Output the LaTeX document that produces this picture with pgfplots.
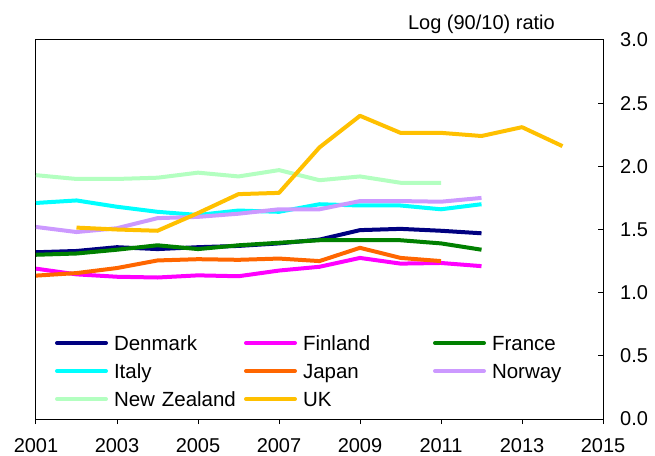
\documentclass[border=0pt]{standalone}
\usepackage{fontspec}
\setmainfont{Liberation Sans}
\usepackage{pgfplots}
\pgfplotsset{compat=1.18}
\definecolor{cDen}{HTML}{000080}
\definecolor{cFin}{HTML}{FF00FF}
\definecolor{cFra}{HTML}{008000}
\definecolor{cIta}{HTML}{00FFFF}
\definecolor{cJap}{HTML}{FF6600}
\definecolor{cNor}{HTML}{CC99FF}
\definecolor{cNZ}{HTML}{B3FFC0}
\definecolor{cUK}{HTML}{FFC000}
\begin{document}
\begin{tikzpicture}
\begin{axis}[
  name=ax,
  scale only axis, width=567pt, height=379pt,
  xmin=2001, xmax=2015, ymin=0, ymax=3,
  xtick={2001,2003,...,2015},
  ytick={0,0.5,...,3},
  xtick pos=bottom, ytick pos=right, yticklabel pos=right,
  tick align=inside, major tick length=5pt,
  x tick style={yshift=-5pt, black, line width=1pt},
  y tick style={black, line width=1pt},
  axis line style={black, line width=1pt},
  /pgf/number format/assume math mode=true,
  tick label style={font=\fontsize{20}{24}\selectfont},
  xticklabel style={inner sep=0pt, anchor=north, yshift=-19pt, /pgf/number format/1000 sep={}},
  yticklabel style={inner sep=0pt, anchor=west, xshift=17pt, /pgf/number format/.cd, fixed, fixed zerofill, precision=1},
  legend columns=3,
  legend cell align=left,
  legend style={draw=none, fill=none, inner sep=0pt, outer sep=0pt,
    at={(0,0)}, anchor=north west, xshift=19pt, yshift=85.5pt,
    font=\fontsize{20.5}{24}\selectfont, row sep=9pt,
    nodes={inner sep=0pt, text width=125pt, text height=17pt, text depth=2pt, align=left},
    /tikz/every odd column/.append style={column sep=6pt},
    /tikz/every even column/.append style={column sep=5pt}},
  legend image code/.code={\draw[#1, line width=4pt, line cap=round] (0pt,0pt) -- (49pt,0pt);},
  every axis plot/.append style={line width=4pt, line join=round, no markers},
]
\addplot[cDen] coordinates {(2001,1.32)(2002,1.33)(2003,1.36)(2004,1.345)(2005,1.36)(2006,1.37)(2007,1.39)(2008,1.42)(2009,1.495)(2010,1.505)(2011,1.49)(2012,1.47)};
\addlegendentry{Denmark}
\addplot[cFin] coordinates {(2001,1.19)(2002,1.145)(2003,1.126)(2004,1.12)(2005,1.137)(2006,1.13)(2007,1.175)(2008,1.205)(2009,1.275)(2010,1.23)(2011,1.235)(2012,1.21)};
\addlegendentry{Finland}
\addplot[cFra] coordinates {(2001,1.30)(2002,1.31)(2003,1.34)(2004,1.375)(2005,1.345)(2006,1.375)(2007,1.395)(2008,1.415)(2009,1.415)(2010,1.415)(2011,1.39)(2012,1.34)};
\addlegendentry{France}
\addplot[cIta] coordinates {(2001,1.71)(2002,1.73)(2003,1.68)(2004,1.64)(2005,1.615)(2006,1.65)(2007,1.64)(2008,1.70)(2009,1.69)(2010,1.69)(2011,1.66)(2012,1.70)};
\addlegendentry{Italy}
\addplot[cJap] coordinates {(2001,1.135)(2002,1.155)(2003,1.195)(2004,1.255)(2005,1.265)(2006,1.26)(2007,1.27)(2008,1.25)(2009,1.355)(2010,1.275)(2011,1.25)};
\addlegendentry{Japan}
\addplot[cNor] coordinates {(2001,1.52)(2002,1.48)(2003,1.51)(2004,1.59)(2005,1.60)(2006,1.625)(2007,1.66)(2008,1.66)(2009,1.725)(2010,1.725)(2011,1.72)(2012,1.75)};
\addlegendentry{Norway}
\addplot[cNZ] coordinates {(2001,1.93)(2002,1.90)(2003,1.90)(2004,1.91)(2005,1.95)(2006,1.92)(2007,1.97)(2008,1.89)(2009,1.92)(2010,1.87)(2011,1.87)};
\addlegendentry{New Zealand}
\addplot[cUK] coordinates {(2002,1.515)(2003,1.50)(2004,1.49)(2005,1.63)(2006,1.78)(2007,1.79)(2008,2.15)(2009,2.40)(2010,2.265)(2011,2.265)(2012,2.24)(2013,2.31)(2014,2.16)};
\addlegendentry{UK}
\end{axis}
\node[anchor=base east, inner sep=0pt, font=\fontsize{20}{24}\selectfont] at ([xshift=-48pt,yshift=10pt]ax.north east) {Log (90/10) ratio};
\path (ax.south west) ++(-36pt,-36pt) rectangle ++(655pt,455pt);
\end{tikzpicture}
\end{document}
